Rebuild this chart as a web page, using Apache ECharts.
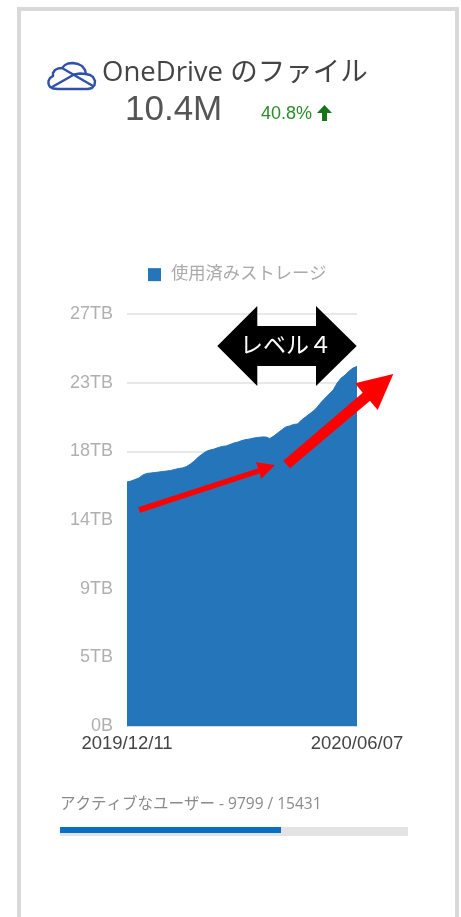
<!DOCTYPE html>
<html>
<head>
<meta charset="utf-8">
<style>html,body{margin:0;padding:0;background:#fff}#c{width:461px;height:917px}</style>
<script src="https://cdn.jsdelivr.net/npm/echarts@6/dist/echarts.min.js"></script>
</head>
<body>
<div id="c"></div>
<script>
const seriesName = '使用済みストレージ';
const firstDate = '2019/12/11';
const lastDate = '2020/06/07';
const yTickLabels = ['0B', '5TB', '9TB', '14TB', '18TB', '23TB', '27TB'];
const storageTB = [15.99,16.05,16.15,16.25,16.45,16.55,16.58,16.61,16.64,16.68,16.71,16.74,16.81,16.87,16.91,17.00,17.17,17.37,17.63,17.82,18.0,18.09,18.15,18.25,18.32,18.35,18.45,18.55,18.61,18.71,18.77,18.81,18.87,18.91,18.94,18.94,18.84,19.00,19.20,19.40,19.59,19.66,19.76,19.79,20.05,20.25,20.45,20.64,20.90,21.23,21.49,21.76,22.02,22.48,22.80,23.00,23.26,23.46,23.56];
const categories = storageTB.map((_, i) => i === 0 ? firstDate : i === storageTB.length - 1 ? lastDate : String(i));
const activeUsers = 9799;
const totalUsers = 15431;
const headline = '10.4M';
const changeText = '40.8%';

const latin = '"Liberation Sans","Noto Sans CJK JP",sans-serif';
const soft = '"Open Sans","Noto Sans CJK JP",sans-serif';

function poly(points, fill) {
  return { type: 'polygon', z: 100, shape: { points }, style: { fill } };
}
function icon(points) {
  return { type: 'polyline', z: 100, shape: { points }, style: { fill: 'none', stroke: '#2f52a8', lineWidth: 2.4, lineJoin: 'round', lineCap: 'round' } };
}
function text(x, y, t, size, fill, family, extra) {
  return { type: 'text', z: 101, x, y, style: Object.assign({ text: t, font: size + 'px ' + family, fill, textVerticalAlign: 'middle' }, extra || {}) };
}

const chart = echarts.init(document.getElementById('c'), null, { renderer: 'canvas' });
chart.setOption({
  animation: false,
  backgroundColor: '#fff',
  legend: {
    left: 143, top: 261, icon: 'rect', itemWidth: 13, itemHeight: 13, selectedMode: false,
    textStyle: { color: '#aaaaaa', fontSize: 17.3, fontFamily: latin, padding: [0, 0, 0, 5] },
    data: [seriesName]
  },
  grid: [
    { left: 127, top: 314, width: 230, height: 412 },
    { left: 60, top: 827, width: 348, height: 9 },
    { left: 60, top: 827, width: 348, height: 6 }
  ],
  xAxis: [
    {
      type: 'category', gridIndex: 0, data: categories, boundaryGap: false,
      axisLine: { lineStyle: { color: '#d9d9d9', width: 1 } }, axisTick: { show: false },
      axisLabel: {
        interval: (i) => i === 0 || i === categories.length - 1,
        color: '#444444', fontSize: 18.5, fontFamily: latin, margin: 9, hideOverlap: false,
        showMinLabel: true, showMaxLabel: true
      }
    },
    { type: 'value', gridIndex: 1, min: 0, max: totalUsers, show: false },
    { type: 'value', gridIndex: 2, min: 0, max: totalUsers, show: false }
  ],
  yAxis: [
    {
      type: 'value', gridIndex: 0, min: 0, max: 27, interval: 4.5,
      axisLine: { show: false }, axisTick: { show: false },
      splitLine: { lineStyle: { color: '#e8e8e8', width: 2 } },
      axisLabel: {
        color: '#b0b0b0', fontSize: 18, fontFamily: latin, margin: 14,
        formatter: (v) => yTickLabels[Math.round(v / 4.5)]
      }
    },
    { type: 'category', gridIndex: 1, data: ['total'], show: false },
    { type: 'category', gridIndex: 2, data: ['active'], show: false }
  ],
  series: [
    {
      name: seriesName, type: 'line', xAxisIndex: 0, yAxisIndex: 0, data: storageTB,
      showSymbol: false, smooth: false, lineStyle: { color: '#2475b9', width: 1 },
      itemStyle: { color: '#2475b9' }, areaStyle: { color: '#2475b9', opacity: 1 }
    },
    { type: 'bar', xAxisIndex: 1, yAxisIndex: 1, data: [totalUsers], barWidth: 9, itemStyle: { color: '#e3e3e3' }, silent: true },
    { type: 'bar', xAxisIndex: 2, yAxisIndex: 2, data: [activeUsers], barWidth: 6, itemStyle: { color: '#0a6fc2' }, silent: true, z: 5 }
  ],
  graphic: [
    { type: 'rect', z: 90, shape: { x: 19, y: 9, width: 438, height: 930 }, style: { fill: 'none', stroke: '#d9d9d9', lineWidth: 4 } },
    icon([[58,89],[88,89],[92,88],[94.5,85],[95,81],[93,77],[90,75],[86,74],[85,70],[82,66],[78,64],[73,63],[68,63.5],[65,65],[62,68],[58,68.5],[55,70],[53,73],[53,76],[50,78],[48.5,81],[48.5,84],[50,87],[53,88.5],[58,89]]),
    icon([[62,68],[93,86]]),
    icon([[52,87],[68,78],[74,74.5],[80,73.5],[86,74]]),
    text(102, 73, 'OneDrive のファイル', 27.5, '#444444', soft),
    text(125, 110, headline, 35, '#555555', latin),
    text(261, 114, changeText, 18, '#2a8c2a', latin),
    poly([[324.5, 105], [332, 113], [327, 113], [327, 121], [322, 121], [322, 113], [317, 113]], '#16751a'),
    poly([[217.3, 346], [257.3, 306], [257.3, 326], [316, 326], [316, 306], [356.7, 346], [316, 386], [316, 366], [257.3, 366], [257.3, 386]], '#000000'),
    text(240, 346, 'レベル４', 23, '#ffffff', soft),
    poly([[138.3, 507.3], [258.3, 468.3], [255.7, 462.3], [275, 465], [261, 479], [260, 473.3], [140, 512.7]], '#ff0000'),
    poly([[283.3, 460.7], [362.7, 392.7], [355, 383.3], [393.3, 374], [377.7, 410], [370, 400.7], [290, 468.3]], '#ff0000'),
    text(60, 805, 'アクティブなユーザー - ' + activeUsers + ' / ' + totalUsers, 15.5, '#8a8a8a', soft)
  ]
});
</script>
</body>
</html>
